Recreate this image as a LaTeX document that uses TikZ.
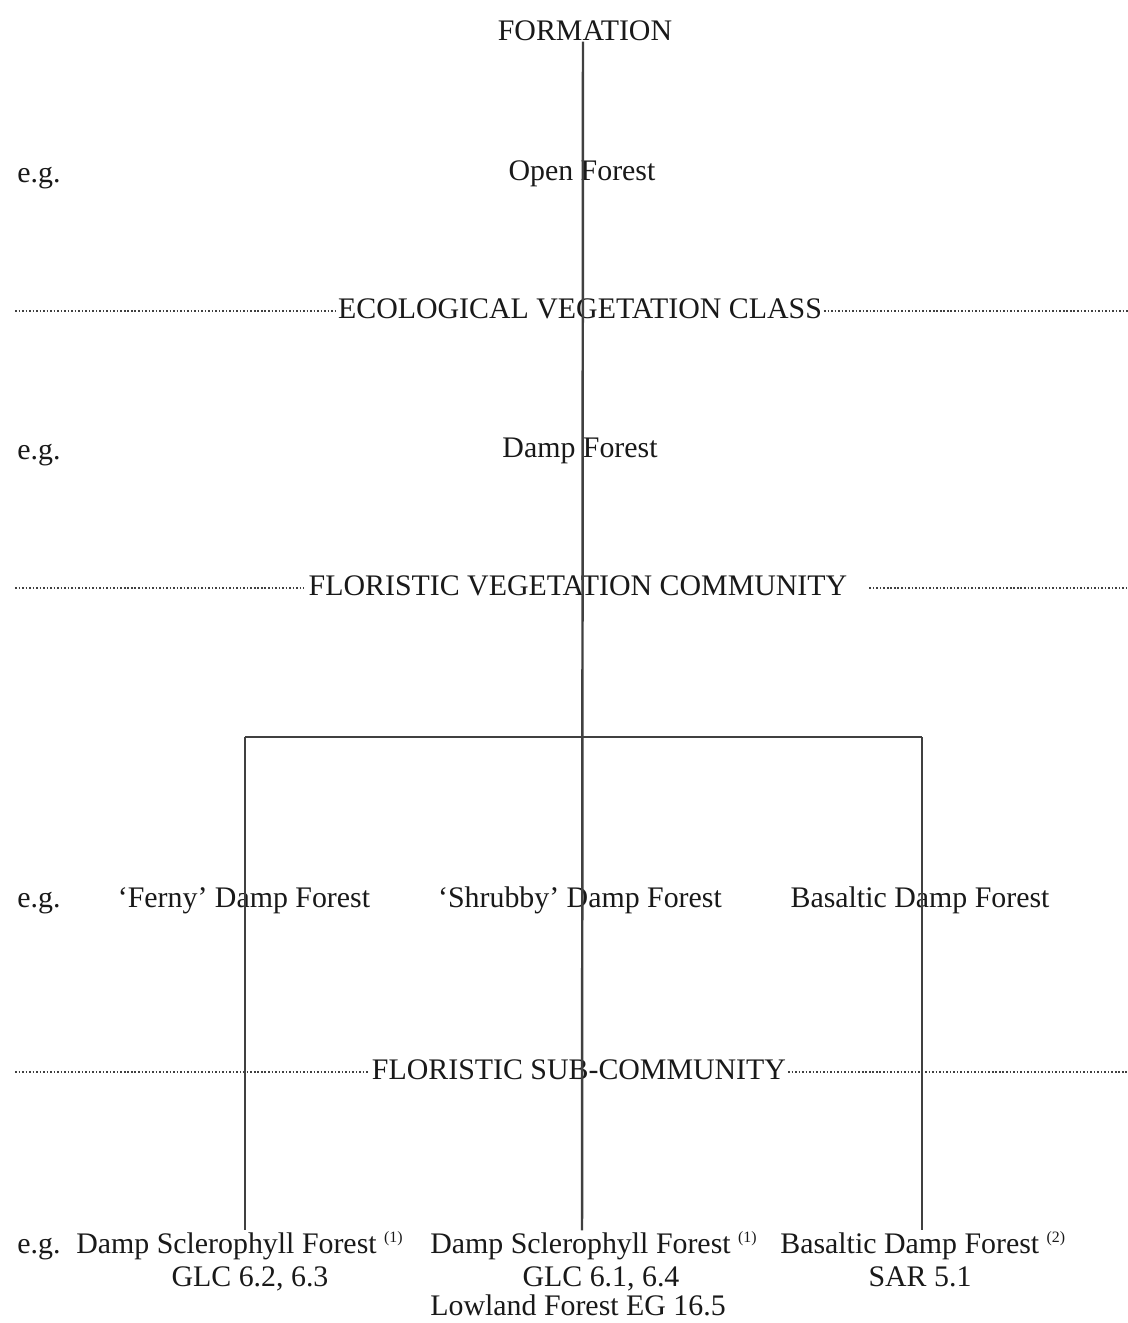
\documentclass[tikz,border=0pt]{standalone}
\usepackage{fontspec}
\setmainfont{Liberation Serif}
\usetikzlibrary{positioning}
\tikzset{
  lbl/.style={inner sep=0pt, text height=1.95ex, text depth=0.1ex, font=\fontsize{17}{18}\selectfont, text=black!90},
  cls/.style={lbl, inner xsep=1pt},
  eg/.style={lbl, anchor=west},
  stem/.style={line width=1.4pt, draw=black!75},
  rank/.style={line width=1.6pt, draw=black!75, dash pattern=on 0.9pt off 1.1pt},
}
\newcommand{\srcref}[1]{\textsuperscript{\fontsize{9}{9}\selectfont(#1)}}
\begin{document}
\begin{tikzpicture}[x=0.02cm, y=-0.02cm]
    \useasboundingbox[fill=white] (0,0) rectangle (1128,1323);
    \coordinate (lm) at (15,0);
    \coordinate (rm) at (1128,0);
    % ranks and examples
    \node[lbl] (formation) at (585,33) {FORMATION};
    \node[eg] (eg1) at (17,175) {e.g.};
    \node[lbl] (openf) at (582,173) {Open Forest};
    \node[cls] (evc) at (580,311) {ECOLOGICAL VEGETATION CLASS};
    \node[eg] (eg2) at (17,452) {e.g.};
    \node[lbl] (dampf) at (580,450) {Damp Forest};
    \node[cls] (fvc) at (578,588) {FLORISTIC VEGETATION COMMUNITY};
    \node[eg] (eg3) at (17,900) {e.g.};
    \node[lbl] (ferny) at (244,900) {`Ferny' Damp Forest};
    \node[lbl] (shrubby) at (580,900) {`Shrubby' Damp Forest};
    \node[lbl] (basaltic) at (920,900) {Basaltic Damp Forest};
    \node[cls] (fsc) at (579,1072) {FLORISTIC SUB-COMMUNITY};
    \node[eg] (eg4) at (17,1246) {e.g.};
    \node[eg] (dsfl) at (76,1246) {Damp Sclerophyll Forest \srcref{1}};
    \node[lbl] (glcl) at (250,1279) {GLC 6.2, 6.3};
    \node[eg] (dsfm) at (430,1246) {Damp Sclerophyll Forest \srcref{1}};
    \node[lbl] (glcm) at (601,1279) {GLC 6.1, 6.4};
    \node[eg] (lowland) at (430,1308) {Lowland Forest EG 16.5};
    \node[eg] (bdf) at (780,1246) {Basaltic Damp Forest \srcref{2}};
    \node[lbl] (sar) at (920,1279) {SAR 5.1};
    % dotted rank lines
    \draw[rank] (evc.west -| lm) -- (evc.west);
    \draw[rank] (evc.east) -- (evc.east -| rm);
    \draw[rank] (fvc.west -| lm) -- ([xshift=-0.06cm]fvc.west);
    \draw[rank] ([xshift=0.4cm]fvc.east) -- (fvc.east -| rm);
    \draw[rank] (fsc.west -| lm) -- (fsc.west);
    \draw[rank] (fsc.east) -- (fsc.east -| rm);
    % tree
    \coordinate (fork) at (582,737);
    \coordinate (forkl) at (245,737);
    \coordinate (forkr) at (922,737);
    \draw[stem, shorten >=4pt] ([xshift=-0.04cm]formation.south) -- (fork |- dsfm.north);
    \draw[stem] (forkl) -- (forkr);
    \draw[stem, shorten >=4pt] (forkl) -- (forkl |- dsfl.north);
    \draw[stem, shorten >=4pt] (forkr) -- (forkr |- bdf.north);
\end{tikzpicture}
\end{document}
